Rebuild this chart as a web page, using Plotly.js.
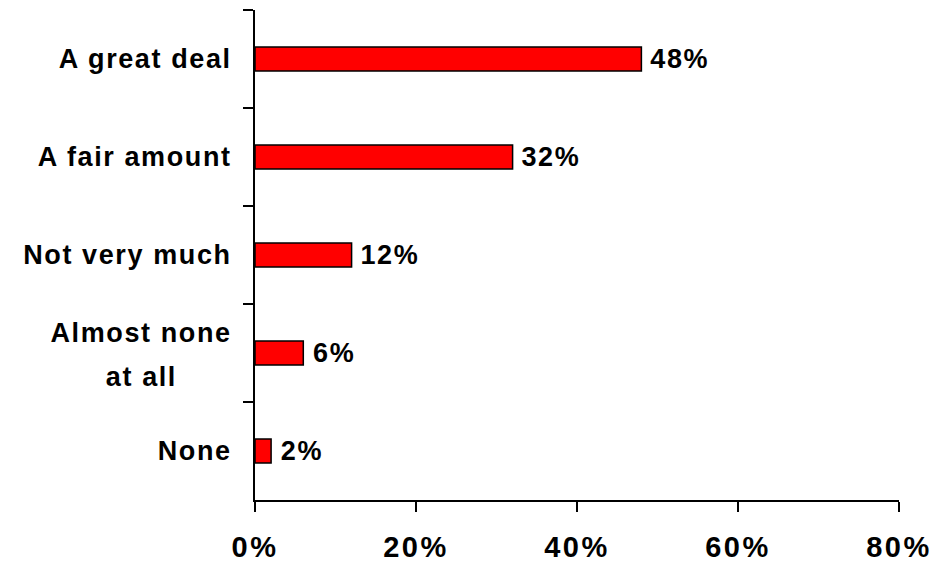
<!DOCTYPE html>
<html>
<head>
<meta charset="utf-8">
<script src="https://cdn.plot.ly/plotly-3.0.1.min.js"></script>
<style>
html,body{margin:0;padding:0;background:#fff;}
#chart{width:940px;height:569px;}
</style>
</head>
<body>
<div id="chart"></div>
<script>
const NB = "\u00a0";
const categories = ["A great deal", "A fair amount", "Not very much", "Almost none<br>at all" + NB.repeat(6), "None"];
const values = [48, 32, 12, 6, 2];
const tickVals = [0, 20, 40, 60, 80];
const tickText = ["0%", "20%", "40%", "60%", "80%"];

const FONT = "Liberation Sans, Arial, Helvetica, sans-serif";

const trace = {
  type: "bar",
  orientation: "h",
  x: values,
  y: categories,
  width: 0.245,
  marker: {color: "#ff0000", line: {color: "#000000", width: 1.5}},
  text: values.map(v => " " + v + "%"),
  textposition: "outside",
  constraintext: "none",
  cliponaxis: false,
  textfont: {family: FONT, size: 27, color: "#000", weight: "bold"},
  hoverinfo: "none"
};

const layout = {
  width: 940, height: 569,
  margin: {l: 255, r: 41, t: 10, b: 69},
  paper_bgcolor: "#fff", plot_bgcolor: "#fff",
  showlegend: false,
  font: {family: FONT, color: "#000"},
  xaxis: {
    range: [0, 80],
    tickvals: tickVals,
    ticktext: tickText,
    showgrid: false, zeroline: false,
    showline: true, linecolor: "#000", linewidth: 2,
    ticks: "outside", ticklen: 10, tickwidth: 2, tickcolor: "#000",
    tickfont: {size: 29, family: FONT, weight: "bold"},
    ticklabelstandoff: 10,
    fixedrange: true
  },
  yaxis: {
    type: "category",
    range: [4.5, -0.5],
    tickson: "boundaries",
    showgrid: false, zeroline: false,
    showline: true, linecolor: "#000", linewidth: 2,
    ticks: "outside", ticklen: 10, tickwidth: 2, tickcolor: "#000",
    tickfont: {size: 27, family: FONT, weight: "bold"},
    ticklabelstandoff: 16,
    fixedrange: true
  }
};

Plotly.newPlot("chart", [trace], layout, {displayModeBar: false, staticPlot: true}).then(function(gd) {
  gd.querySelectorAll(".ytick text, .bartext").forEach(function(t) { t.style.letterSpacing = "1.6px"; });
  gd.querySelectorAll(".xtick text").forEach(function(t) { t.style.letterSpacing = "2.5px"; });
  gd.querySelectorAll(".ytick text").forEach(function(t) {
    const lines = t.querySelectorAll("tspan.line");
    if (lines.length === 2) {
      lines[0].setAttribute("dy", "-0.12em");
      lines[1].setAttribute("dy", "1.54em");
    }
  });
});
</script>
</body>
</html>
